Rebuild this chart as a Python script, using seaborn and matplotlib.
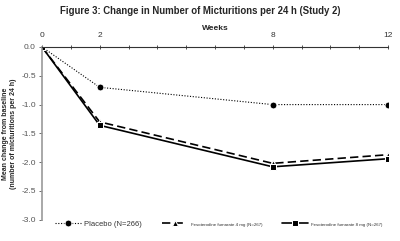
import numpy as np
import pandas as pd
import matplotlib
matplotlib.use("Agg")
import matplotlib.pyplot as plt
import seaborn as sns

# ===== data =====
weeks = [0, 2, 8, 12]
placebo = [0.0, -0.70, -1.00, -1.00]
feso_4mg = [0.0, -1.30, -2.02, -1.87]
feso_8mg = [0.0, -1.36, -2.08, -1.94]
series_names = ["Placebo (N=266)",
                "Fesoterodine fumarate 4 mg (N=267)",
                "Fesoterodine fumarate 8 mg (N=267)"]

df = pd.DataFrame({
    "week": weeks * 3,
    "change": placebo + feso_4mg + feso_8mg,
    "group": [series_names[0]] * 4 + [series_names[1]] * 4 + [series_names[2]] * 4,
})

sns.set_style("white")
plt.rcParams["font.family"] = ["Liberation Sans", "DejaVu Sans"]

fig = plt.figure(figsize=(4.0, 2.41), dpi=100)
ax = fig.add_axes([0.105, 0.088, 0.865, 0.717])

styles = {
    series_names[0]: dict(linestyle=(0, (1, 1.5)), marker="o", markersize=5, linewidth=0.8),
    series_names[1]: dict(linestyle=(0, (5, 2.5)), marker="^", markersize=5, linewidth=1.2),
    series_names[2]: dict(linestyle="-", marker="s", markersize=5, linewidth=1.2),
}
for name in series_names:
    sub = df[df["group"] == name]
    sns.lineplot(data=sub, x="week", y="change", ax=ax, color="black",
                 label=name, **styles[name])

ax.set_xlim(0, 12)
ax.set_ylim(-3.0, 0.0)

# x axis along the zero line at the top
ax.xaxis.tick_top()
ax.xaxis.set_label_position("top")
ax.set_xticks([0, 2, 8, 12])
ax.set_xticks(range(0, 13), minor=True)
ax.tick_params(axis="x", which="both", direction="inout", length=3, width=0.6,
               labelsize=6, colors="#333333", pad=4)
ax.set_xlabel("Weeks", fontsize=6, fontweight="bold", labelpad=2)

ax.set_yticks(np.arange(-3.0, 0.01, 0.5))
ax.set_yticklabels([f"{v:.1f}" for v in np.arange(-3.0, 0.01, 0.5)])
ax.tick_params(axis="y", direction="out", length=2.5, width=0.6, labelsize=6,
               colors="#555555", pad=2, left=True)
ax.set_ylabel("Mean change from baseline\n(number of micturitions per 24 h)",
              fontsize=5, fontweight="bold", labelpad=3, linespacing=1.1)

for side in ["right", "bottom"]:
    ax.spines[side].set_visible(False)
ax.spines["top"].set_color("#333333")
ax.spines["top"].set_linewidth(0.8)
ax.spines["left"].set_color("#999999")
ax.spines["left"].set_linewidth(1.2)

leg = ax.legend(loc="lower left", bbox_to_anchor=(0.03, -0.065), ncol=3, frameon=False,
                prop={"size": 5.5}, handlelength=3.3, handletextpad=0.5,
                columnspacing=2.6, borderaxespad=0)
for i, t in enumerate(leg.get_texts()):
    t.set_fontsize(5.5 if i == 0 else 3.2)
    t.set_color("#333333")

fig.suptitle("Figure 3: Change in Number of Micturitions per 24 h (Study 2)",
             x=0.5, y=0.975, fontsize=6.9, fontweight="bold")

fig.savefig("out.png", dpi=100)
